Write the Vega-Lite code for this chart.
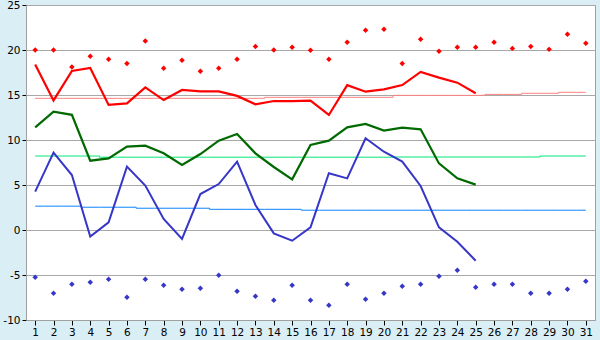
{
  "$schema": "https://vega.github.io/schema/vega-lite/v6.json",
  "width": 569,
  "height": 315,
  "autosize": "none",
  "padding": {"left": 26, "top": 5, "right": 5, "bottom": 20},
  "background": "#d9eef5",
  "config": {
    "view": {"fill": "white", "stroke": "#a0a0a0", "strokeWidth": 1},
    "axis": {"labelFont": "DejaVu Sans", "labelFontSize": 10.5, "labelColor": "#000000", "tickColor": "#000000", "domainColor": "#a0a0a0", "gridColor": "#a8a8a8", "title": null}
  },
  "data": {"values": [
    {"day": 1, "hi": 18.4, "mean": 11.4, "lo": 4.26, "rhi": 20.0, "rlo": -5.26, "nhi": 14.63, "nmean": 8.22, "nlo": 2.65},
    {"day": 2, "hi": 14.4, "mean": 13.15, "lo": 8.6, "rhi": 20.0, "rlo": -7.04, "nhi": 14.63, "nmean": 8.22, "nlo": 2.65},
    {"day": 3, "hi": 17.67, "mean": 12.8, "lo": 6.11, "rhi": 18.1, "rlo": -6.04, "nhi": 14.63, "nmean": 8.22, "nlo": 2.65},
    {"day": 4, "hi": 18.0, "mean": 7.7, "lo": -0.74, "rhi": 19.3, "rlo": -5.81, "nhi": 14.63, "nmean": 8.22, "nlo": 2.53},
    {"day": 5, "hi": 13.9, "mean": 7.96, "lo": 0.85, "rhi": 18.96, "rlo": -5.48, "nhi": 14.63, "nmean": 8.09, "nlo": 2.53},
    {"day": 6, "hi": 14.07, "mean": 9.26, "lo": 7.04, "rhi": 18.5, "rlo": -7.48, "nhi": 14.63, "nmean": 8.09, "nlo": 2.53},
    {"day": 7, "hi": 15.85, "mean": 9.37, "lo": 4.93, "rhi": 21.0, "rlo": -5.48, "nhi": 14.63, "nmean": 8.09, "nlo": 2.42},
    {"day": 8, "hi": 14.44, "mean": 8.52, "lo": 1.22, "rhi": 17.96, "rlo": -6.15, "nhi": 14.63, "nmean": 8.09, "nlo": 2.42},
    {"day": 9, "hi": 15.56, "mean": 7.22, "lo": -1.0, "rhi": 18.85, "rlo": -6.59, "nhi": 14.63, "nmean": 8.09, "nlo": 2.42},
    {"day": 10, "hi": 15.4, "mean": 8.44, "lo": 4.0, "rhi": 17.63, "rlo": -6.48, "nhi": 14.63, "nmean": 8.09, "nlo": 2.42},
    {"day": 11, "hi": 15.4, "mean": 9.93, "lo": 5.11, "rhi": 17.96, "rlo": -5.04, "nhi": 14.63, "nmean": 8.09, "nlo": 2.3},
    {"day": 12, "hi": 14.9, "mean": 10.67, "lo": 7.6, "rhi": 18.96, "rlo": -6.81, "nhi": 14.63, "nmean": 8.09, "nlo": 2.3},
    {"day": 13, "hi": 13.96, "mean": 8.52, "lo": 2.78, "rhi": 20.4, "rlo": -7.37, "nhi": 14.63, "nmean": 8.09, "nlo": 2.3},
    {"day": 14, "hi": 14.33, "mean": 7.0, "lo": -0.37, "rhi": 20.0, "rlo": -7.81, "nhi": 14.74, "nmean": 8.09, "nlo": 2.3},
    {"day": 15, "hi": 14.33, "mean": 5.63, "lo": -1.19, "rhi": 20.3, "rlo": -6.15, "nhi": 14.74, "nmean": 8.09, "nlo": 2.3},
    {"day": 16, "hi": 14.37, "mean": 9.44, "lo": 0.3, "rhi": 19.96, "rlo": -7.81, "nhi": 14.74, "nmean": 8.09, "nlo": 2.2},
    {"day": 17, "hi": 12.78, "mean": 9.93, "lo": 6.3, "rhi": 18.96, "rlo": -8.37, "nhi": 14.74, "nmean": 8.09, "nlo": 2.2},
    {"day": 18, "hi": 16.1, "mean": 11.41, "lo": 5.74, "rhi": 20.85, "rlo": -6.04, "nhi": 14.74, "nmean": 8.09, "nlo": 2.2},
    {"day": 19, "hi": 15.37, "mean": 11.78, "lo": 10.19, "rhi": 22.2, "rlo": -7.7, "nhi": 14.74, "nmean": 8.09, "nlo": 2.2},
    {"day": 20, "hi": 15.63, "mean": 11.04, "lo": 8.7, "rhi": 22.3, "rlo": -7.04, "nhi": 14.74, "nmean": 8.09, "nlo": 2.2},
    {"day": 21, "hi": 16.1, "mean": 11.37, "lo": 7.6, "rhi": 18.5, "rlo": -6.26, "nhi": 14.96, "nmean": 8.11, "nlo": 2.2},
    {"day": 22, "hi": 17.56, "mean": 11.19, "lo": 4.89, "rhi": 21.2, "rlo": -6.04, "nhi": 14.96, "nmean": 8.11, "nlo": 2.2},
    {"day": 23, "hi": 16.93, "mean": 7.4, "lo": 0.3, "rhi": 19.85, "rlo": -5.15, "nhi": 14.96, "nmean": 8.11, "nlo": 2.2},
    {"day": 24, "hi": 16.37, "mean": 5.74, "lo": -1.3, "rhi": 20.3, "rlo": -4.48, "nhi": 14.96, "nmean": 8.11, "nlo": 2.2},
    {"day": 25, "hi": 15.19, "mean": 5.04, "lo": -3.41, "rhi": 20.3, "rlo": -6.37, "nhi": 14.96, "nmean": 8.11, "nlo": 2.2},
    {"day": 26, "hi": null, "mean": null, "lo": null, "rhi": 20.85, "rlo": -6.04, "nhi": 15.07, "nmean": 8.11, "nlo": 2.2},
    {"day": 27, "hi": null, "mean": null, "lo": null, "rhi": 20.18, "rlo": -6.04, "nhi": 15.07, "nmean": 8.11, "nlo": 2.2},
    {"day": 28, "hi": null, "mean": null, "lo": null, "rhi": 20.4, "rlo": -7.04, "nhi": 15.19, "nmean": 8.11, "nlo": 2.2},
    {"day": 29, "hi": null, "mean": null, "lo": null, "rhi": 20.07, "rlo": -7.04, "nhi": 15.19, "nmean": 8.22, "nlo": 2.2},
    {"day": 30, "hi": null, "mean": null, "lo": null, "rhi": 21.74, "rlo": -6.59, "nhi": 15.3, "nmean": 8.22, "nlo": 2.2},
    {"day": 31, "hi": null, "mean": null, "lo": null, "rhi": 20.74, "rlo": -5.7, "nhi": 15.3, "nmean": 8.22, "nlo": 2.2}
  ]},
  "encoding": {
    "x": {"field": "day", "type": "quantitative",
      "scale": {"domain": [0.5, 31.5], "nice": false, "zero": false},
      "axis": {"values": [1,2,3,4,5,6,7,8,9,10,11,12,13,14,15,16,17,18,19,20,21,22,23,24,25,26,27,28,29,30,31], "grid": false, "tickSize": 5, "labelPadding": 2, "labelFlush": false}}
  },
  "layer": [
    {"mark": {"type": "line", "interpolate": "step", "color": "#ff8080", "strokeWidth": 1},
     "encoding": {"y": {"field": "nhi", "type": "quantitative",
       "scale": {"domain": [-10, 25], "nice": false},
       "axis": {"values": [-10, -5, 0, 5, 10, 15, 20, 25], "grid": true, "tickSize": 4, "labelPadding": 2, "labelExpr": "replace(datum.label, '\u2212', '-')"}}}},
    {"mark": {"type": "line", "interpolate": "step", "color": "#00e676", "strokeWidth": 1},
     "encoding": {"y": {"field": "nmean", "type": "quantitative"}}},
    {"mark": {"type": "line", "interpolate": "step", "color": "#0a84ff", "strokeWidth": 1},
     "encoding": {"y": {"field": "nlo", "type": "quantitative"}}},
    {"mark": {"type": "line", "color": "#ff0000", "strokeWidth": 2.2},
     "encoding": {"y": {"field": "hi", "type": "quantitative"}}},
    {"mark": {"type": "line", "color": "#006a00", "strokeWidth": 2.2},
     "encoding": {"y": {"field": "mean", "type": "quantitative"}}},
    {"mark": {"type": "line", "color": "#3636c8", "strokeWidth": 2},
     "encoding": {"y": {"field": "lo", "type": "quantitative"}}},
    {"mark": {"type": "point", "shape": "diamond", "filled": true, "color": "#ff0000", "opacity": 1, "size": 30},
     "encoding": {"y": {"field": "rhi", "type": "quantitative"}}},
    {"mark": {"type": "point", "shape": "diamond", "filled": true, "color": "#3636c8", "opacity": 1, "size": 30},
     "encoding": {"y": {"field": "rlo", "type": "quantitative"}}}
  ]
}
